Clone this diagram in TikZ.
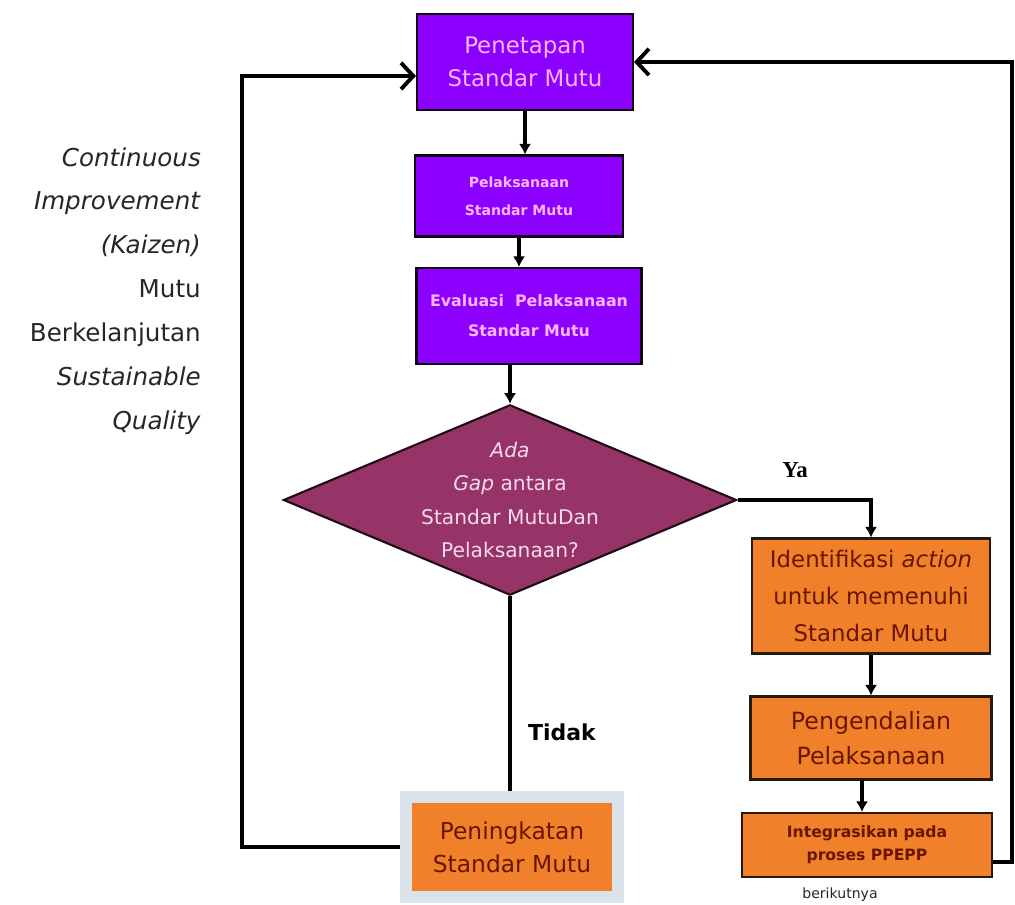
\documentclass[tikz,border=0pt]{standalone}
\usepackage{fontspec}
\setmainfont{DejaVu Sans}
\newfontfamily\yafont{Liberation Serif}
\usetikzlibrary{shapes.geometric,arrows.meta}

\definecolor{mutuPurple}{RGB}{139,0,255}
\definecolor{purpleText}{RGB}{255,182,255}
\definecolor{gapPlum}{RGB}{150,52,104}
\definecolor{gapText}{RGB}{246,216,240}
\definecolor{actOrange}{RGB}{240,128,42}
\definecolor{actText}{RGB}{105,22,0}
\definecolor{frameGray}{RGB}{218,226,234}

\begin{document}
\begin{tikzpicture}[x=0.02cm,y=-0.02cm,
	purpleBox/.style={draw=black!85!violet, line width=1.2pt, fill=mutuPurple, text=purpleText, align=center, inner sep=0pt},
	orangeBox/.style={draw=black!80!brown, line width=1.2pt, fill=actOrange, text=actText, align=center, inner sep=0pt},
	flow/.style={line width=2.2pt, -{Latex[length=6pt,width=7pt]}},
	loopLine/.style={line width=2.2pt, -{Straight Barb[length=7pt,width=15pt,line width=2.2pt]}}]
		
		\useasboundingbox (0,0) rectangle (1015,905);
		
		%Nodes
		\node (penetapan) at (525,62) [purpleBox, minimum width=4.32cm, minimum height=1.92cm, 
		font=\fontsize{13}{19}\selectfont]{Penetapan\\Standar Mutu};
		
		\node (pelaksanaan) at (519,196) [purpleBox, minimum width=4.16cm, minimum height=1.62cm, 
		font=\fontsize{8}{16}\selectfont\bfseries]{Pelaksanaan\\Standar Mutu};
		
		\node (evaluasi) at (529,316) [purpleBox, minimum width=4.5cm, minimum height=1.92cm, 
		font=\fontsize{9}{17}\selectfont\bfseries]{Evaluasi\ \ Pelaksanaan\\Standar Mutu};
		
		\node (gap) at (510,500) [draw=black!80!gapPlum, line width=1.2pt, fill=gapPlum, diamond, 
		shape aspect=2.38, inner sep=0pt, minimum width=9.06cm, minimum height=3.8cm, 
		text=gapText, align=center, font=\fontsize{11.5}{19}\selectfont]
		{\textit{Ada}\\\textit{Gap} antara\\Standar MutuDan\\Pelaksanaan?};
		
		\node (identifikasi) at (871,596) [orangeBox, minimum width=4.76cm, minimum height=2.3cm, 
		font=\fontsize{13}{21}\selectfont]{Identifikasi \textit{action}\\untuk memenuhi\\Standar Mutu};
		
		\node (pengendalian) at (871,738) [orangeBox, minimum width=4.82cm, minimum height=1.66cm, 
		font=\fontsize{13.5}{20}\selectfont]{Pengendalian\\Pelaksanaan};
		
		\node (integrasikan) at (867,845) [orangeBox, minimum width=5cm, minimum height=1.28cm, 
		font=\fontsize{8.9}{13}\selectfont\bfseries]{Integrasikan pada\\proses PPEPP};
		
		\node (berikutnya) at (840,895) [font=\fontsize{8}{10}\selectfont, text=black!85]{berikutnya};
		
		\node (peningkatan) at (512,847) [draw=frameGray, line width=0.24cm, fill=actOrange, 
		text=actText, align=center, minimum width=4.24cm, minimum height=2.02cm, 
		font=\fontsize{13.3}{19}\selectfont]{Peningkatan\\Standar Mutu};
		
		\node (kaizen) at (207,291) [anchor=east, align=right, text=black!85, 
		font=\fontsize{14}{25}\selectfont]
		{\textit{Continuous}\\\textit{Improvement}\\\textit{(Kaizen)}\\Mutu\\Berkelanjutan\\\textit{Sustainable}\\\textit{Quality}};
		
		%Links
		\draw[flow] (penetapan.south) -- (penetapan.south |- pelaksanaan.north);
		
		\draw[flow] (pelaksanaan.south) -- (pelaksanaan.south |- evaluasi.north);
		
		\draw[flow] (gap.north |- evaluasi.south) -- (gap.north);
		
		\draw[flow] (gap.east) -| (identifikasi.north);
		
		\draw[flow] (identifikasi.south) -- (identifikasi.south |- pengendalian.north);
		
		\draw[flow] (862,780) coordinate (pengOut) -- (pengOut |- integrasikan.north);
		
		\draw[line width=2.2pt] (gap.south) -- (gap.south |- peningkatan.north);
		
		%Feedback loops
		\coordinate (kaizenTop) at (242,76);
		\draw[loopLine] (peningkatan.west) -| (kaizenTop) -- (penetapan.west |- kaizenTop);
		
		\coordinate (ppeppOut) at (1012,862);
		\draw[loopLine] (integrasikan.east |- ppeppOut) -- (ppeppOut) |- (penetapan.east);
		
		%Answers
		\node (ya) at (795,470) [font=\yafont\fontsize{13}{15}\selectfont\bfseries]{Ya};
		\node (tidak) at (562,732) [font=\fontsize{12.5}{14}\selectfont\bfseries]{Tidak};
		\end{tikzpicture}
\end{document}
